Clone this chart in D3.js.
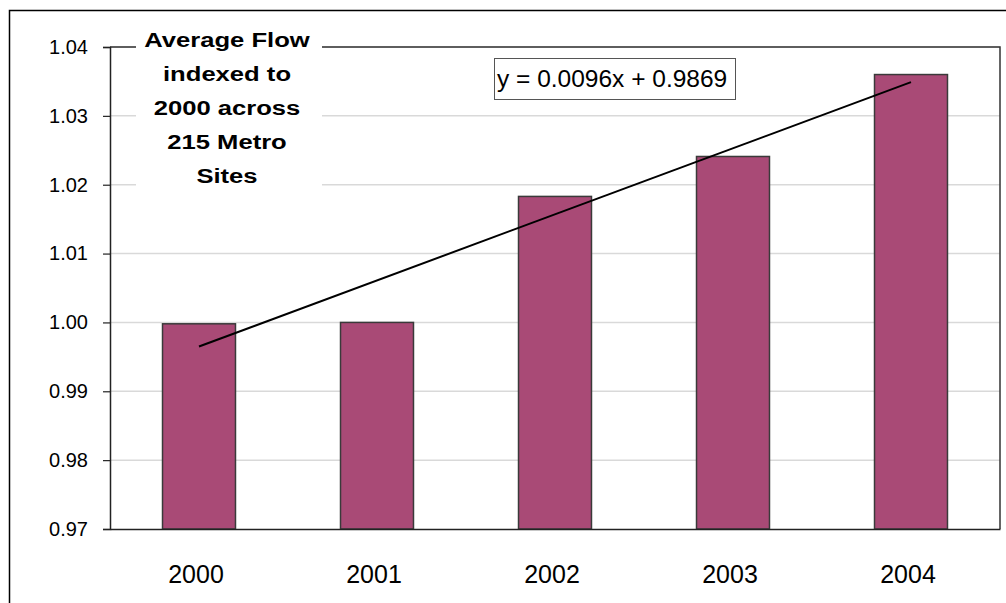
<!DOCTYPE html>
<html>
<head>
<meta charset="utf-8">
<script src="https://cdn.jsdelivr.net/npm/d3@7"></script>
<style>
  body { margin: 0; background: #fff; }
  text { font-family: "Liberation Sans", Arial, sans-serif; fill: #000; }
</style>
</head>
<body>
<div id="chart"></div>
<script>
// Chart data
const years = ['2000', '2001', '2002', '2003', '2004'];
const flowIndex = [0.9998, 1.0000, 1.0183, 1.0241, 1.0360];
const yTicks = [0.97, 0.98, 0.99, 1.00, 1.01, 1.02, 1.03, 1.04];
const trendSlope = 0.0096;
const trendIntercept = 0.9869;
const titleLines = ['Average Flow', 'indexed to', '2000 across', '215 Metro', 'Sites'];
const equationLabel = 'y = 0.0096x + 0.9869';

const W = 1006, H = 603;
const plot = { left: 110, right: 1000, top: 47, bottom: 529 };

const svg = d3.select('#chart')
  .append('svg')
  .attr('width', W)
  .attr('height', H);

// Outer chart border (runs off the right and bottom edges)
svg.append('rect')
  .attr('x', 9.5)
  .attr('y', 10.5)
  .attr('width', 1020)
  .attr('height', 620)
  .attr('fill', '#fff')
  .attr('stroke', '#000')
  .attr('stroke-width', 1.5);

// Scales
const x = d3.scaleBand()
  .domain(years)
  .range([plot.left, plot.right])
  .paddingInner(0.59)
  .paddingOuter(0.295);

const y = d3.scaleLinear()
  .domain([0.97, 1.04])
  .range([plot.bottom, plot.top]);

// Gridlines
svg.append('g')
  .selectAll('line')
  .data(yTicks.slice(1))
  .enter()
  .append('line')
  .attr('x1', plot.left)
  .attr('x2', plot.right)
  .attr('y1', d => y(d))
  .attr('y2', d => y(d))
  .attr('stroke', '#d9d9d9')
  .attr('stroke-width', 1.5);

// Plot area border (top and right)
svg.append('path')
  .attr('d', `M${plot.left},${plot.top}H${plot.right}V${plot.bottom}`)
  .attr('fill', 'none')
  .attr('stroke', '#333')
  .attr('stroke-width', 1.5);

// Bars
svg.selectAll('.bar')
  .data(years)
  .enter()
  .append('rect')
  .attr('class', 'bar')
  .attr('x', d => x(d))
  .attr('width', x.bandwidth())
  .attr('y', (d, i) => y(flowIndex[i]))
  .attr('height', (d, i) => y(0.97) - y(flowIndex[i]))
  .attr('fill', '#a94a76')
  .attr('stroke', '#3a3a3a')
  .attr('stroke-width', 1.5);

// Y axis
const yAxis = d3.axisLeft(y)
  .tickValues(yTicks)
  .tickFormat(d3.format('.2f'))
  .tickSize(7)
  .tickPadding(15);

const yG = svg.append('g')
  .attr('transform', 'translate(' + plot.left + ',0)')
  .call(yAxis);
yG.select('.domain').attr('stroke', '#222').attr('stroke-width', 1.5);
yG.selectAll('.tick line').attr('stroke', '#222').attr('stroke-width', 1.2);
yG.selectAll('.tick text')
  .attr('font-size', 20)
  .attr('font-family', '"Liberation Sans", Arial, sans-serif')
  .attr('fill', '#000');

// X axis
const xAxis = d3.axisBottom(x).tickSize(0).tickPadding(36);
const xG = svg.append('g')
  .attr('transform', 'translate(0,' + plot.bottom + ')')
  .call(xAxis);
xG.select('.domain').attr('stroke', '#222').attr('stroke-width', 1.5);
xG.selectAll('.tick text')
  .attr('font-size', 25)
  .attr('dx', -3)
  .attr('font-family', '"Liberation Sans", Arial, sans-serif')
  .attr('fill', '#000');

// Linear trendline
const trendPoints = years.map((d, i) => [x(d) + x.bandwidth() / 2, y(trendSlope * (i + 1) + trendIntercept)]);
svg.append('path')
  .attr('d', d3.line()([trendPoints[0], trendPoints[trendPoints.length - 1]]))
  .attr('stroke', '#000')
  .attr('stroke-width', 2)
  .attr('fill', 'none');

// Trendline equation label
svg.append('rect')
  .attr('x', 494.5)
  .attr('y', 58.5)
  .attr('width', 241)
  .attr('height', 41)
  .attr('fill', '#fff')
  .attr('stroke', '#555')
  .attr('stroke-width', 1);

svg.append('text')
  .attr('x', 497)
  .attr('y', 87)
  .attr('font-size', 24.5)
  .text(equationLabel);

// Title block
svg.append('rect')
  .attr('x', 136)
  .attr('y', 26)
  .attr('width', 186)
  .attr('height', 170)
  .attr('fill', '#fff');

const title = svg.append('g')
  .attr('transform', 'translate(227,0) scale(1.22,1)');

title.selectAll('text')
  .data(titleLines)
  .enter()
  .append('text')
  .attr('x', 0)
  .attr('y', (d, i) => 47 + i * 34)
  .attr('text-anchor', 'middle')
  .attr('font-size', 21)
  .attr('font-weight', 'bold')
  .text(d => d);
</script>
</body>
</html>
